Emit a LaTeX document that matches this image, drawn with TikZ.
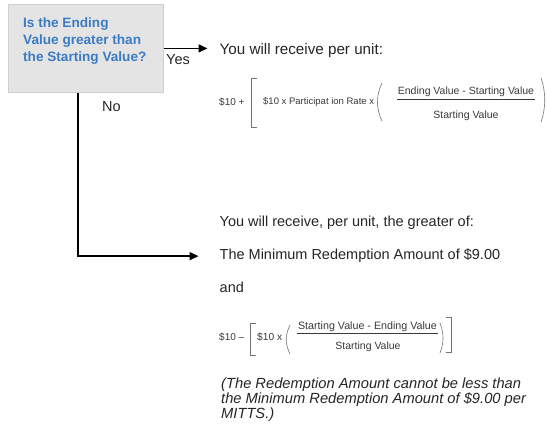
\documentclass[tikz,border=0pt]{standalone}
\usepackage{fontspec}
\setmainfont{Liberation Sans}
\usetikzlibrary{arrows.meta}
\definecolor{qblue}{HTML}{3D7CC2}
\definecolor{boxfill}{HTML}{E4E4E4}
\definecolor{boxline}{HTML}{D0D0D0}
\definecolor{txt}{HTML}{262626}
\definecolor{fml}{HTML}{3A3A3A}
\newcommand{\fsz}[1]{\fontsize{#1}{#1}\selectfont}
\begin{document}
\begin{tikzpicture}[x=1pt,y=-1pt,
  body/.style={anchor=base west, inner sep=0pt, text=txt, font=\fsz{14.5}},
  ftext/.style={anchor=base west, inner sep=0pt, text=fml},
  fnum/.style={anchor=base, inner sep=0pt, text=fml},
  brk/.style={draw=black!55, line width=0.6pt},
  frule/.style={draw=fml, line width=0.7pt},
  arr/.style={draw=black, line width=1.5pt, -{Triangle[length=9pt,width=8pt]}},
]
\useasboundingbox[fill=white] (0,0) rectangle (547,425);

% question box
\node[draw=boxline, fill=boxfill, line width=0.8pt, minimum width=155pt,
      minimum height=88pt, inner sep=0pt, anchor=north west] (q) at (8,4) {};
\node[anchor=north west, inner sep=0pt, align=left, text=qblue,
      font=\bfseries\fontsize{13.6}{17}\selectfont] (qt) at (23,17.5)
      {Is the Ending\\Value greater than\\the Starting Value?};

% branch labels
\node[body] (yes) at (166,65) {Yes};
\node[body] (no) at (102,112) {No};

% Yes branch
\node[body, font=\fsz{15.2}] (r1) at (219.5,55) {You will receive per unit:};
\draw[arr] (q.east) -- ([xshift=-12pt]r1.west |- q.east);

% formula 1
\node[ftext, font=\fsz{10}] (f1a) at (219,106) {\$10 +};
\draw[brk] (257,78) -- (251,78) -- (251,127) -- (257,127);
\node[ftext, font=\fsz{9.5}] (f1b) at (263,105) {\$10 x Participat ion Rate x};
\draw[brk] (382,83) .. controls (376,95) and (376,109) .. (382,121);
\node[fnum, font=\fsz{10.5}] (f1n) at (466,95) {Ending Value - Starting Value};
\draw[frule] (397,99.5) -- (535,99.5);
\node[fnum, font=\fsz{10.5}] (f1d) at (466,119) {Starting Value};
\draw[brk] (541,78) .. controls (546,92) and (546,108) .. (541,122);

% No branch
\node[body] (r2) at (219.5,227) {You will receive, per unit, the greater of:};
\node[body] (m2) at (219.5,260) {The Minimum Redemption Amount of \$9.00};
\node[body] (and) at (219.5,293) {and};
\coordinate (nx) at ([xshift=70pt]q.south west);
\draw[arr] (nx) |- ([xshift=-21pt]m2.west);

% formula 2
\node[ftext, font=\fsz{10}] (f2a) at (219,341) {\$10 –};
\draw[brk] (256,323) -- (250.5,323) -- (250.5,355) -- (256,355);
\node[ftext, font=\fsz{10.2}] (f2b) at (257,341) {\$10 x};
\draw[brk] (290,325) .. controls (285,335) and (285,344) .. (290,354);
\node[fnum, font=\fsz{10.7}] (f2n) at (367.5,330) {Starting Value - Ending Value};
\draw[frule] (297,333.5) -- (438,333.5);
\node[fnum, font=\fsz{10.5}] (f2d) at (368,349) {Starting Value};
\draw[brk] (440,323) .. controls (444,333) and (444,343) .. (440,353);
\draw[brk] (446,317) -- (451,317) -- (451,352) -- (446,352);

% note
\node[anchor=north west, inner sep=0pt, align=left, text=txt,
      font=\itshape\fontsize{14.7}{15}\selectfont] (note) at (221,377.5)
      {(The Redemption Amount cannot be less than\\the Minimum Redemption Amount of \$9.00 per\\MITTS.)};
\end{tikzpicture}
\end{document}
